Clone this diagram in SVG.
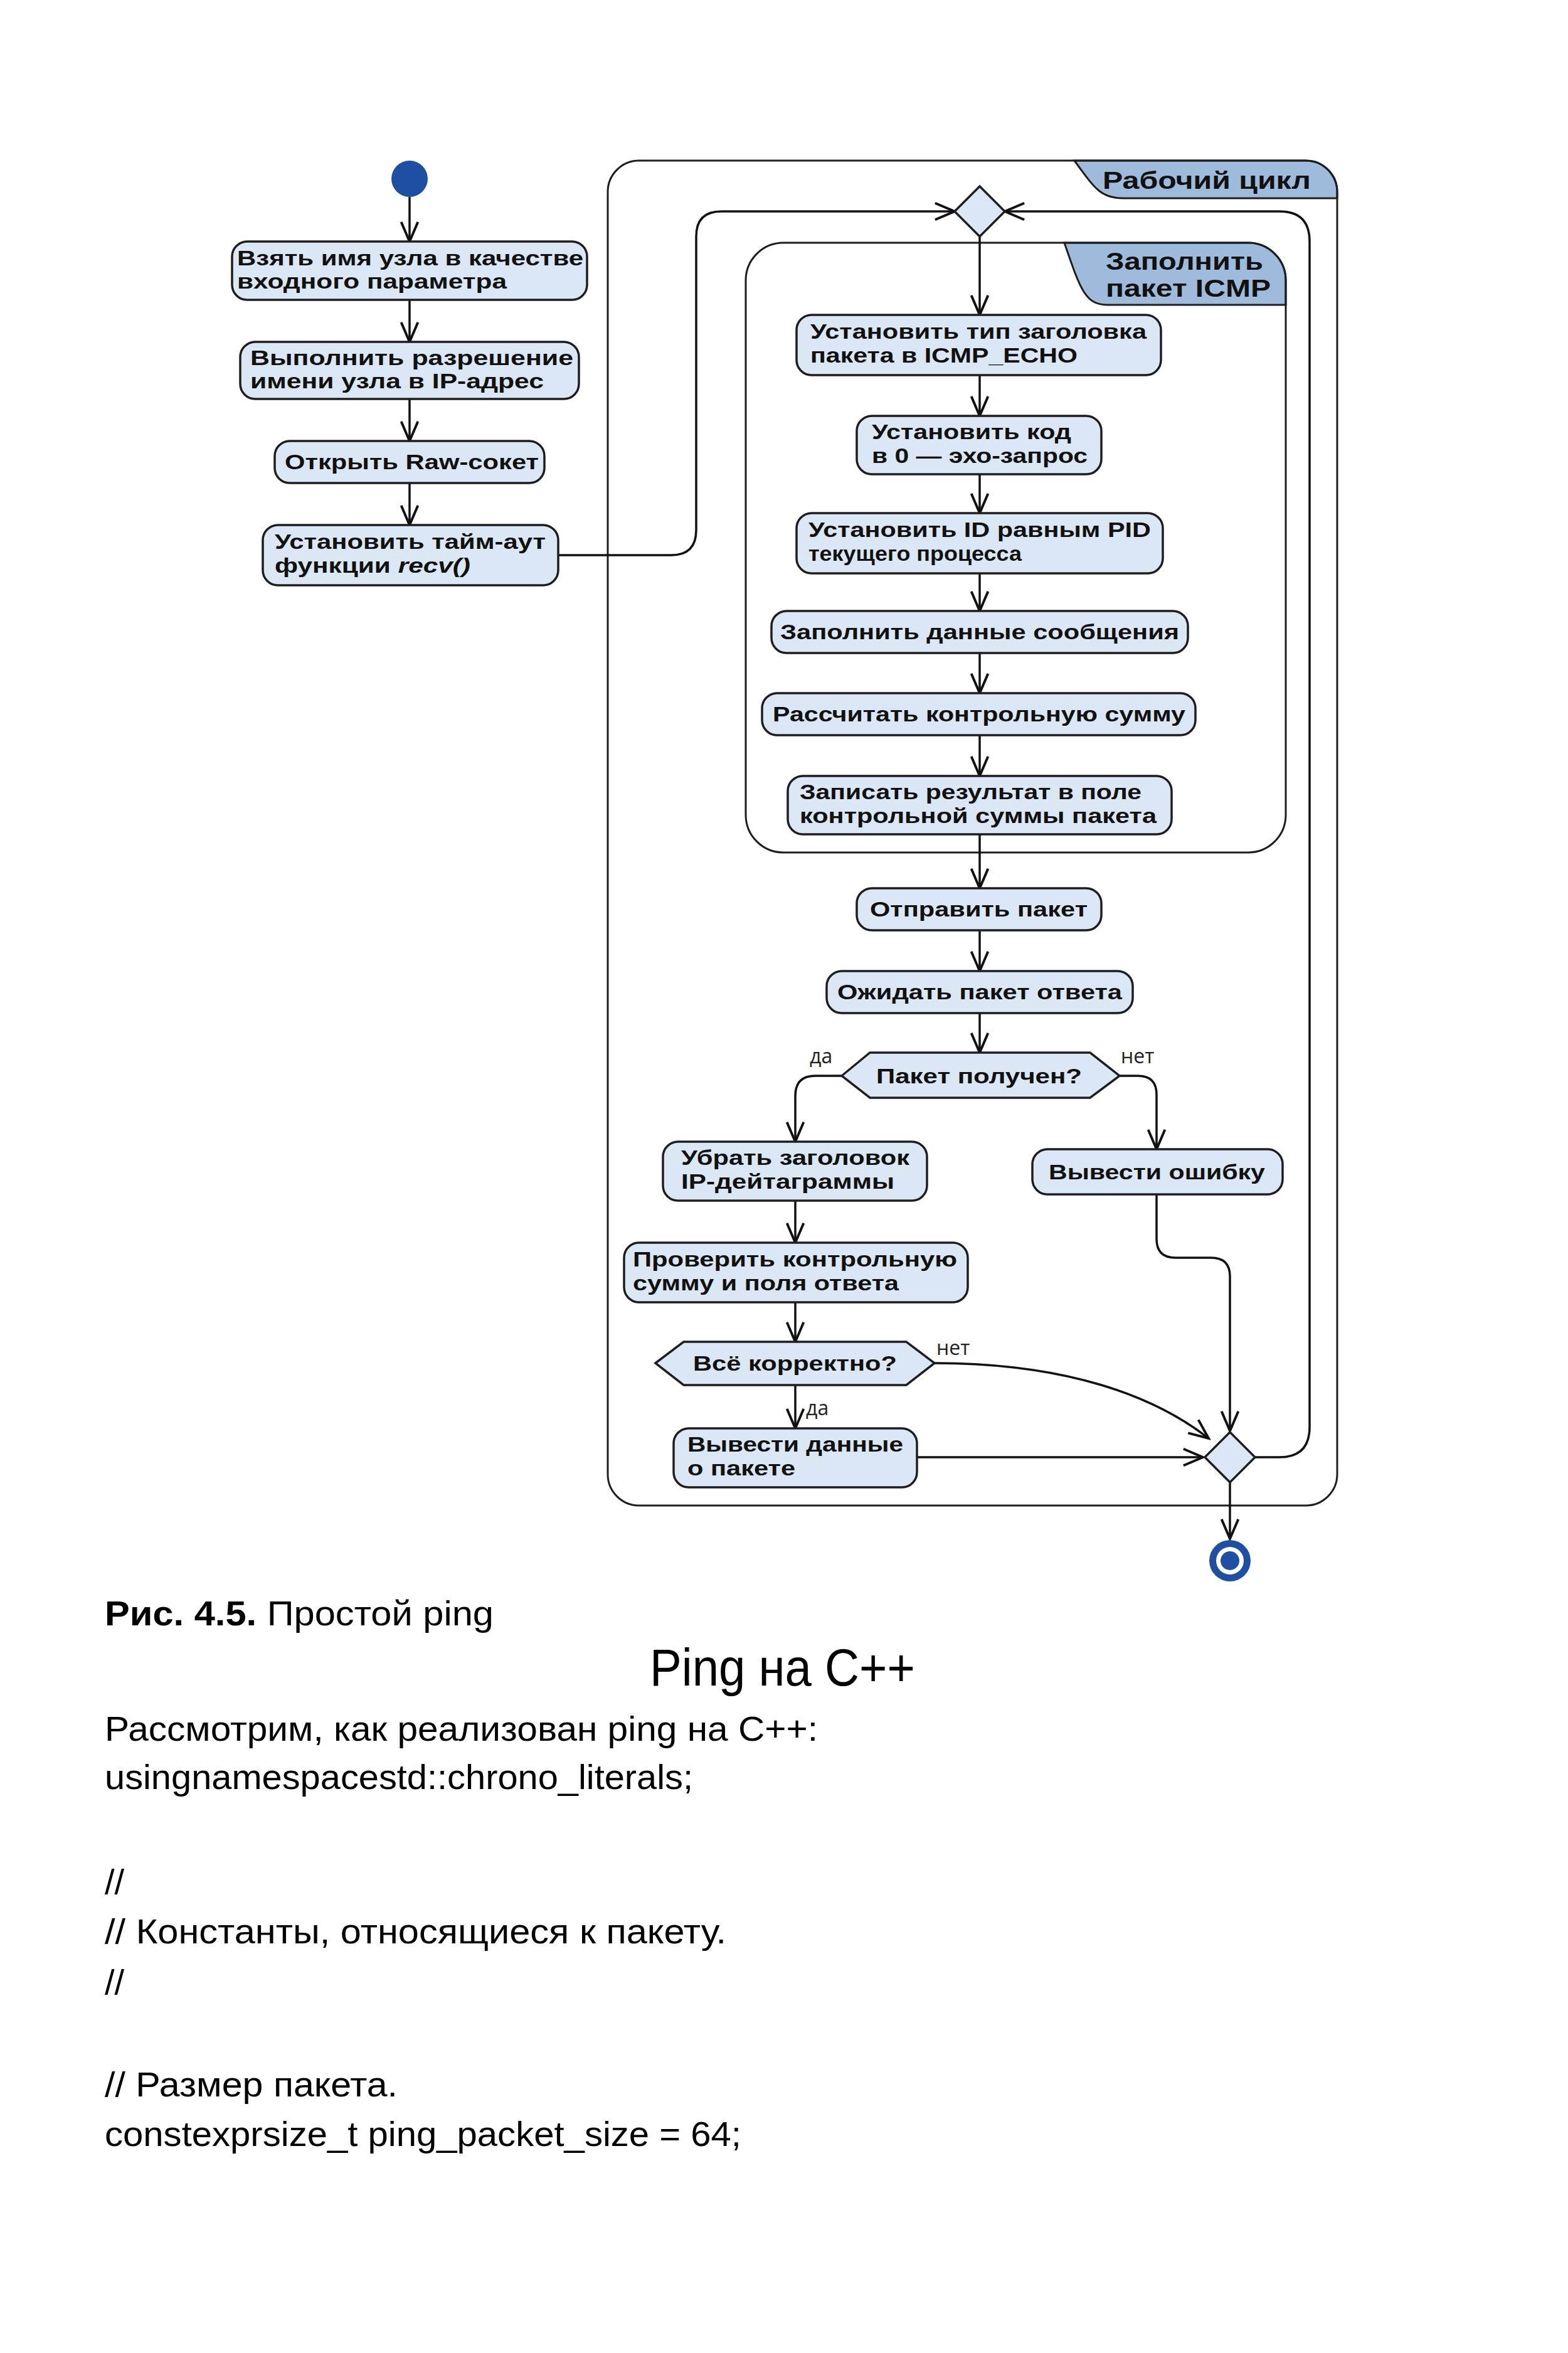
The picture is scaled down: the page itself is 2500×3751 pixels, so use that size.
<svg xmlns="http://www.w3.org/2000/svg" width="2500" height="3751" viewBox="0 0 2500 3751">
<style>
.node{fill:#dbe7f4;stroke:#1e1e1e;stroke-width:3.5}
.cont{fill:none;stroke:#1e1e1e;stroke-width:3}
.tab{fill:#9ebbdb;stroke:#1e1e1e;stroke-width:3}
.t{font-family:"Liberation Sans","Open Sans",sans-serif;font-weight:bold;font-size:33px;fill:#111}
.tabt{font-family:"Liberation Sans","Open Sans",sans-serif;font-weight:bold;font-size:38px;fill:#111}
.lbl{font-family:"Open Sans","Noto Sans","DejaVu Sans",sans-serif;font-size:32px;fill:#222}
.edge{fill:none;stroke:#111;stroke-width:3.5;marker-end:url(#arr)}
.body{font-family:"Liberation Sans","DejaVu Sans",sans-serif;font-size:56px;fill:#000}
.title{font-family:"Liberation Sans","DejaVu Sans",sans-serif;font-size:84px;fill:#000}
.blue{fill:#1f4fa0}
</style>
<defs>
<marker id="arr" markerUnits="userSpaceOnUse" markerWidth="40" markerHeight="40" viewBox="-32 -16 36 32" refX="0" refY="0" orient="auto" overflow="visible">
<path d="M-28,-12 L0,0 L-28,12" fill="none" stroke="#111" stroke-width="3.5"/>
</marker>
</defs>
<rect width="2500" height="3751" fill="#fff"/>

<g id="container-work-loop">
<path class="tab" d="M1713,256 L2082,256 A50,50 0 0 1 2132,306 L2132,316 L1790,316 C1755,316 1745,300 1713,256 Z"/>
<rect class="cont" x="969" y="256" width="1163" height="2144" rx="50"/>
<text class="tabt" x="1758" y="301" textLength="332" lengthAdjust="spacingAndGlyphs">Рабочий цикл</text>
</g>

<g id="container-fill-icmp">
<path class="tab" d="M1697,387 L1990,387 A60,60 0 0 1 2050,447 L2050,486 L1765,486 C1730,486 1722,460 1697,387 Z"/>
<rect class="cont" x="1189" y="387" width="861" height="972" rx="60"/>
<text class="tabt" x="1763" y="430" textLength="251" lengthAdjust="spacingAndGlyphs">Заполнить</text>
<text class="tabt" x="1763" y="473" textLength="263" lengthAdjust="spacingAndGlyphs">пакет ICMP</text>
</g>

<g id="connectors">
<path class="edge" d="M653,314 L653,385"/>
<path class="edge" d="M653,478 L653,545"/>
<path class="edge" d="M653,636 L653,703"/>
<path class="edge" d="M653,770 L653,837"/>
<path class="edge" d="M890,885 L1070,885 Q1110,885 1110,845 L1110,377 Q1110,337 1150,337 L1522,337"/>
<path class="edge" d="M1562,377 L1562,502"/>
<path class="edge" d="M1562,598 L1562,663"/>
<path class="edge" d="M1562,756 L1562,818"/>
<path class="edge" d="M1562,914 L1562,974"/>
<path class="edge" d="M1562,1041 L1562,1105"/>
<path class="edge" d="M1562,1172 L1562,1237"/>
<path class="edge" d="M1562,1330 L1562,1416"/>
<path class="edge" d="M1562,1483 L1562,1548"/>
<path class="edge" d="M1562,1615 L1562,1678"/>
<path class="edge" d="M1342,1715 L1300,1715 Q1268,1715 1268,1747 L1268,1820"/>
<path class="edge" d="M1785,1715 L1814,1715 Q1844,1715 1844,1745 L1844,1832"/>
<path class="edge" d="M1268,1914 L1268,1981"/>
<path class="edge" d="M1268,2076 L1268,2139"/>
<path class="edge" d="M1268,2208 L1268,2277"/>
<path class="edge" d="M1490,2173 C1700,2173 1840,2225 1927,2293"/>
<path class="edge" d="M1462,2323 L1918,2323"/>
<path class="edge" d="M1844,1904 L1844,1975 Q1844,2005 1874,2005 L1931,2005 Q1961,2005 1961,2035 L1961,2281"/>
<path class="edge" d="M2001,2323 L2040,2323 Q2088,2323 2088,2275 L2088,385 Q2088,337 2040,337 L1602,337"/>
<path class="edge" d="M1961,2362 L1961,2453"/>
<text class="lbl" x="1291" y="1695">да</text>
<text class="lbl" x="1787" y="1695">нет</text>
<text class="lbl" x="1493" y="2160">нет</text>
<text class="lbl" x="1285" y="2256">да</text>
</g>

<g id="start"><circle class="blue" cx="653" cy="285" r="29"/></g>

<g id="n1">
<rect class="node" x="370" y="385" width="566" height="93" rx="24"/>
<text class="t" x="378" y="423" textLength="552" lengthAdjust="spacingAndGlyphs">Взять имя узла в качестве</text>
<text class="t" x="378" y="460" textLength="430" lengthAdjust="spacingAndGlyphs">входного параметра</text>
</g>
<g id="n2">
<rect class="node" x="383" y="545" width="540" height="91" rx="24"/>
<text class="t" x="399" y="582" textLength="515" lengthAdjust="spacingAndGlyphs">Выполнить разрешение</text>
<text class="t" x="399" y="619" textLength="468" lengthAdjust="spacingAndGlyphs">имени узла в IP-адрес</text>
</g>
<g id="n3">
<rect class="node" x="438" y="703" width="430" height="67" rx="24"/>
<text class="t" x="454" y="748" textLength="405" lengthAdjust="spacingAndGlyphs">Открыть Raw-сокет</text>
</g>
<g id="n4">
<rect class="node" x="419" y="837" width="471" height="96" rx="24"/>
<text class="t" x="438" y="875" textLength="432" lengthAdjust="spacingAndGlyphs">Установить тайм-аут</text>
<text class="t" x="438" y="913" textLength="312" lengthAdjust="spacingAndGlyphs">функции <tspan font-style="italic">recv()</tspan></text>
</g>

<g id="merge-top"><polygon class="node" points="1562,297 1602,337 1562,377 1522,337"/></g>

<g id="n5">
<rect class="node" x="1270" y="502" width="581" height="96" rx="24"/>
<text class="t" x="1292" y="540" textLength="536" lengthAdjust="spacingAndGlyphs">Установить тип заголовка</text>
<text class="t" x="1292" y="578" textLength="426" lengthAdjust="spacingAndGlyphs">пакета в ICMP_ECHO</text>
</g>
<g id="n6">
<rect class="node" x="1366" y="663" width="390" height="93" rx="24"/>
<text class="t" x="1390" y="700" textLength="318" lengthAdjust="spacingAndGlyphs">Установить код</text>
<text class="t" x="1390" y="738" textLength="344" lengthAdjust="spacingAndGlyphs">в 0 — эхо-запрос</text>
</g>
<g id="n7">
<rect class="node" x="1270" y="818" width="584" height="96" rx="24"/>
<text class="t" x="1289" y="856" textLength="546" lengthAdjust="spacingAndGlyphs">Установить ID равным PID</text>
<text class="t" x="1289" y="894" textLength="340" lengthAdjust="spacingAndGlyphs">текущего процесса</text>
</g>
<g id="n8">
<rect class="node" x="1230" y="974" width="664" height="67" rx="24"/>
<text class="t" x="1244" y="1019" textLength="636" lengthAdjust="spacingAndGlyphs">Заполнить данные сообщения</text>
</g>
<g id="n9">
<rect class="node" x="1215" y="1105" width="691" height="67" rx="24"/>
<text class="t" x="1232" y="1150" textLength="658" lengthAdjust="spacingAndGlyphs">Рассчитать контрольную сумму</text>
</g>
<g id="n10">
<rect class="node" x="1256" y="1237" width="612" height="93" rx="24"/>
<text class="t" x="1275" y="1274" textLength="545" lengthAdjust="spacingAndGlyphs">Записать результат в поле</text>
<text class="t" x="1275" y="1312" textLength="569" lengthAdjust="spacingAndGlyphs">контрольной суммы пакета</text>
</g>
<g id="n11">
<rect class="node" x="1366" y="1416" width="390" height="67" rx="24"/>
<text class="t" x="1387" y="1461" textLength="347" lengthAdjust="spacingAndGlyphs">Отправить пакет</text>
</g>
<g id="n12">
<rect class="node" x="1318" y="1548" width="488" height="67" rx="24"/>
<text class="t" x="1335" y="1593" textLength="454" lengthAdjust="spacingAndGlyphs">Ожидать пакет ответа</text>
</g>
<g id="d-received">
<polygon class="node" points="1342,1715 1387,1678 1738,1678 1785,1715 1738,1750 1387,1750"/>
<text class="t" x="1397" y="1727" textLength="328" lengthAdjust="spacingAndGlyphs">Пакет получен?</text>
</g>
<g id="n13">
<rect class="node" x="1057" y="1820" width="421" height="94" rx="24"/>
<text class="t" x="1086" y="1857" textLength="364" lengthAdjust="spacingAndGlyphs">Убрать заголовок</text>
<text class="t" x="1086" y="1895" textLength="340" lengthAdjust="spacingAndGlyphs">IP-дейтаграммы</text>
</g>
<g id="n14">
<rect class="node" x="1646" y="1832" width="399" height="72" rx="24"/>
<text class="t" x="1672" y="1880" textLength="345" lengthAdjust="spacingAndGlyphs">Вывести ошибку</text>
</g>
<g id="n15">
<rect class="node" x="995" y="1981" width="548" height="95" rx="24"/>
<text class="t" x="1009" y="2019" textLength="517" lengthAdjust="spacingAndGlyphs">Проверить контрольную</text>
<text class="t" x="1009" y="2057" textLength="424" lengthAdjust="spacingAndGlyphs">сумму и поля ответа</text>
</g>
<g id="d-correct">
<polygon class="node" points="1045,2173 1090,2139 1445,2139 1490,2173 1445,2208 1090,2208"/>
<text class="t" x="1105" y="2185" textLength="325" lengthAdjust="spacingAndGlyphs">Всё корректно?</text>
</g>
<g id="n16">
<rect class="node" x="1074" y="2277" width="388" height="94" rx="24"/>
<text class="t" x="1096" y="2314" textLength="344" lengthAdjust="spacingAndGlyphs">Вывести данные</text>
<text class="t" x="1096" y="2352" textLength="172" lengthAdjust="spacingAndGlyphs">о пакете</text>
</g>
<g id="merge-bottom"><polygon class="node" points="1961,2283 2001,2323 1961,2363 1921,2323"/></g>
<g id="end">
<circle class="blue" cx="1961" cy="2488" r="33"/>
<circle fill="#fff" cx="1961" cy="2488" r="22"/>
<circle class="blue" cx="1961" cy="2488" r="15"/>
</g>

<g id="page-text">
<text class="body" x="167" y="2591" textLength="620" lengthAdjust="spacingAndGlyphs"><tspan font-weight="bold">Рис. 4.5.</tspan> Простой ping</text>
<text class="title" x="1036" y="2687" textLength="423" lengthAdjust="spacingAndGlyphs">Ping на C++</text>
<text class="body" x="167" y="2775" textLength="1137" lengthAdjust="spacingAndGlyphs">Рассмотрим, как реализован ping на C++:</text>
<text class="body" x="167" y="2852" textLength="938" lengthAdjust="spacingAndGlyphs">usingnamespacestd::chrono_literals;</text>
<text class="body" x="167" y="3019">//</text>
<text class="body" x="167" y="3098" textLength="991" lengthAdjust="spacingAndGlyphs">// Константы, относящиеся к пакету.</text>
<text class="body" x="167" y="3179">//</text>
<text class="body" x="167" y="3342" textLength="467" lengthAdjust="spacingAndGlyphs">// Размер пакета.</text>
<text class="body" x="167" y="3421" textLength="1015" lengthAdjust="spacingAndGlyphs">constexprsize_t ping_packet_size = 64;</text>
</g>
</svg>
